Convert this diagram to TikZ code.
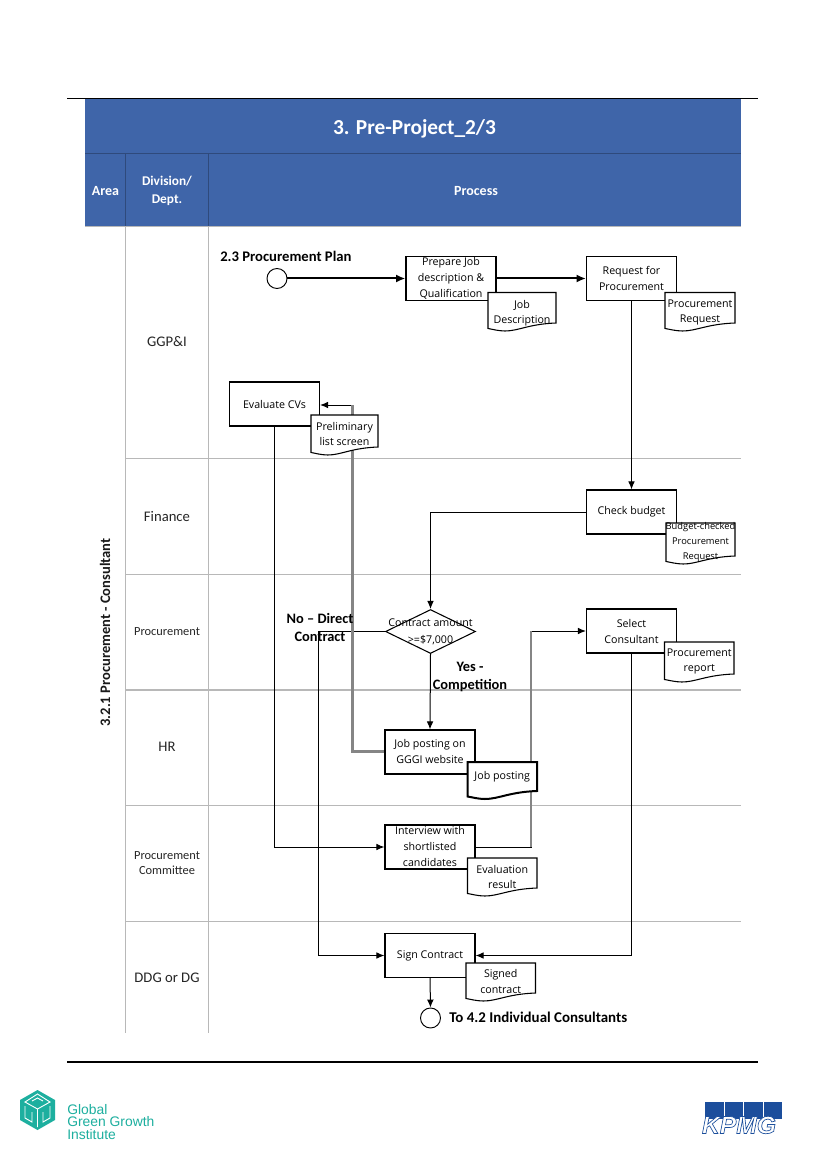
\documentclass[tikz,border=0pt]{standalone}
\usepackage{fontspec}
\setmainfont{Carlito}
\newfontfamily\boxfont{Open Sans}
\newfontfamily\logofont{Liberation Sans}
\usetikzlibrary{arrows.meta,shapes.geometric,calc}
\definecolor{headblue}{HTML}{3F65A9}
\definecolor{headline}{HTML}{2F4A7C}
\definecolor{rowline}{HTML}{B8B8B8}
\definecolor{ggteal}{HTML}{1DAF9F}
\definecolor{kblue}{HTML}{1C4E9C}
\tikzset{
  x=0.75pt,y=-0.75pt,
  procbox/.style={draw=black,line width=0.9pt,fill=white,minimum width=67.5pt,minimum height=33pt,inner sep=0pt,align=center,font=\boxfont\fontsize{8}{12}\selectfont},
  doctext/.style={inner sep=0pt,align=center,font=\boxfont\fontsize{8}{11.3}\selectfont},
  docshape/.style={draw=black,line width=0.8pt,fill=white},
  decision/.style={diamond,draw=black,line width=0.8pt,fill=white,minimum width=67.5pt,minimum height=33pt,inner sep=0pt},
  terminal/.style={circle,draw=black,line width=0.7pt,fill=white,minimum size=15pt,inner sep=0pt},
  flow/.style={draw=black,line width=0.75pt,-{Latex[length=6pt,width=5pt]}},
  heavyflow/.style={draw=black,line width=1.5pt,-{Latex[length=7pt,width=6pt]}},
  grayrun/.style={draw=black!48,line width=2pt},
  lane/.style={draw=rowline,line width=0.8pt},
  laneText/.style={inner sep=0pt,align=center,text=black!85,font=\fontsize{11}{14}\selectfont},
  laneSmall/.style={inner sep=0pt,align=center,text=black!85,font=\fontsize{9.3}{11.3}\selectfont},
  headText/.style={inner sep=0pt,align=center,text=white,font=\bfseries\fontsize{10.5}{14}\selectfont},
  noteText/.style={inner sep=0pt,align=center,font=\bfseries\fontsize{10.8}{13.5}\selectfont},
}
% document symbol: rectangle with a wavy lower edge, label in a named node
% arguments: name, left, top, right, bottom, label offset, label
\newcommand{\docnode}[7]{%
  \pgfmathsetmacro{\dw}{#4-#2}%
  \path[docshape] (#2,#3) -- (#4,#3) -- (#4,#5)
    .. controls ({#2+0.6*\dw},{#5+1}) and ({#2+0.45*\dw},{#5+8}) .. ({#2+0.25*\dw},{#5+8})
    .. controls ({#2+0.15*\dw},{#5+8}) and ({#2+0.05*\dw},{#5+6}) .. (#2,{#5+5.5}) -- cycle;
  \node[doctext] (#1) at ({(#2+#4)/2},{(#3+#5)/2+#6}) {#7};%
}
\begin{document}
\begin{tikzpicture}
\useasboundingbox (0,0) rectangle (827,1169);
\fill[white] (0,0) rectangle (827,1169);

% page rules
\draw[black,line width=0.9pt] (67,98.5) -- (758,98.5);
\draw[black,line width=0.9pt] (67,1062) -- (758,1062);

% heading band
\fill[headblue] (85,99) rectangle (741,226);
\draw[headline,line width=0.6pt] (85,153.5) -- (741,153.5);
\draw[headline,line width=0.6pt] (125.5,153.5) -- (125.5,226);
\draw[headline,line width=0.6pt] (208.5,153.5) -- (208.5,226);
\draw[rowline,line width=0.8pt] (85,226.3) -- (741,226.3);
\node[inner sep=0pt,text=white,font=\bfseries\fontsize{16}{19}\selectfont] (title) at (414.5,128.5) {3. Pre-Project\_2/3};
\node[headText] (areaHead) at (105.5,191) {Area};
\node[headText,font=\bfseries\fontsize{10}{13.5}\selectfont] (divHead) at (167,191) {Division/\\Dept.};
\node[headText] (procHead) at (476,191) {Process};

% swimlane grid
\draw[lane] (125.5,226) -- (125.5,1033);
\draw[lane] (208.5,226) -- (208.5,1033);
\foreach \ly in {458.5,574.3,690,805.5,921.5} \draw[lane] (125.5,\ly) -- (741,\ly);

\node[rotate=90,inner sep=0pt,text=black!90,font=\bfseries\fontsize{10.9}{13}\selectfont] (areaName) at (105,632.5) {3.2.1 Procurement - Consultant};
\node[laneText] (laneA) at (167,342) {GGP\&I};
\node[laneText] (laneB) at (167,516.5) {Finance};
\node[laneSmall] (laneC) at (167,632) {Procurement};
\node[laneText] (laneD) at (167,747) {HR};
\node[laneSmall] (laneE) at (167,863.5) {Procurement\\Committee};
\node[laneText] (laneF) at (167,978) {DDG or DG};

% process steps
\node[procbox] (prep) at (451,278.5) {Prepare Job\\description \&\\Qualification};
\node[procbox,font=\boxfont\fontsize{8}{11}\selectfont] (req) at (631.5,278.5) {\raisebox{0.4pt}{Request for}\\Procurement};
\node[procbox] (evalcv) at (274.5,404) {Evaluate CVs};
\node[procbox] (check) at (631.5,512) {Check budget};
\node[procbox] (select) at (631.5,631) {Select\\Consultant};
\node[procbox,text depth=0pt] (post) at (430,752) {\raisebox{1.5pt}{Job posting on}\\\raisebox{1.5pt}{GGGI website}};
\node[procbox] (interview) at (430,847) {\raisebox{1.5pt}{Interview with}\\\raisebox{1.5pt}{shortlisted}\\\raisebox{1.5pt}{candidates}};
\node[procbox] (sign) at (430,955.5) {Sign Contract};
\node[decision] (dec) at (430.5,631.5) {};
\node[terminal] (start) at (277,278.5) {};
\node[terminal] (finish) at (430.5,1018) {};

% bends of the connectors
\coordinate (noA) at (318,631.5);
\coordinate (noB) at (318,955.5);
\coordinate (postA) at (352.5,751.5);
\coordinate (postB) at (352.5,405);
\coordinate (intA) at (531,847);
\coordinate (intB) at (531,631);

% connectors
\draw[heavyflow] (start) -- (prep);
\draw[heavyflow] (prep) -- (req);
\draw[flow] (req) -- (check);
\draw[flow] (check.west) -| (dec.north);
\draw[flow] (dec.south) -- (post.north);
\draw[flow] (dec.west) -- (noA) -- (noB) -- (sign.west);
\draw[flow] (post.west |- postA) -- (postA) -- (postB) -- (evalcv.east |- postB);
\draw[grayrun] (post.west |- postA) -- (postA) -- (postB);
\draw[flow] (evalcv.south) |- (interview.west);
\draw[flow] (interview.east) -- (intA) -- (intB) -- (select.west);
\draw[grayrun] (intA) -- (intB);
\draw[flow] (select.south) |- (sign.east);
\draw[flow] (sign.south) -- (finish.north);

% documents produced along the way
\docnode{jobdesc}{488}{292.5}{556}{323}{5.5}{Job\\Description}
\docnode{procreq}{665}{292.5}{735}{323}{5}{Procurement\\Request}
\docnode{prelim}{311}{415}{378}{447}{3}{Preliminary\\list screen}
\docnode{budget}{666}{523}{735}{556}{3}{\fontsize{7}{10}\selectfont Budget-checked\\\fontsize{7}{10}\selectfont Procurement\\\fontsize{7}{10}\selectfont Request}
\docnode{procrep}{664.5}{642}{734}{674}{3.5}{Procurement\\report}
\begin{scope}[docshape/.append style={line width=1.5pt}]
\docnode{jobpost}{467.5}{762}{537}{791}{0.5}{Job posting}
\end{scope}
\docnode{evalres}{467.5}{858}{537}{888}{4}{Evaluation\\result}
\docnode{signed}{466}{963}{535.5}{993}{3.5}{Signed\\contract}

% labels inside the diamond and beside the flow
\node[doctext,font=\boxfont\fontsize{8}{12.5}\selectfont] (decText) at (430.5,631.5) {Contract amount\\>=\$7,000};
\node[noteText,anchor=west,font=\bfseries\fontsize{11}{13.5}\selectfont] (planLabel) at (220,256) {2.3 Procurement Plan};
\node[noteText] (noLabel) at (320,627) {No -- Direct\\Contract};
\node[noteText] (yesLabel) at (470,677) {Yes -\\Competition};
\node[noteText,anchor=west,font=\bfseries\fontsize{11.2}{13.5}\selectfont] (toLabel) at (449,1017) {To 4.2 Individual Consultants};

% Global Green Growth Institute mark
\fill[ggteal] (37.5,1090) -- (55,1100) -- (55,1120) -- (37.5,1130) -- (20,1120) -- (20,1100) -- cycle;
\draw[white,line width=0.7pt] (37.5,1094) -- (50,1102) -- (37.5,1109) -- (25,1102) -- cycle
  (37.5,1109) -- (37.5,1127) (25,1106) -- (25,1118) -- (32,1122) -- (32,1112)
  (50,1106) -- (50,1118) -- (43,1122) -- (43,1112) (32,1101) -- (37.5,1098) -- (43,1101);
\node[anchor=west,inner sep=0pt,text=ggteal,align=left,font=\logofont\fontsize{10.4}{9.4}\selectfont] (gggi) at (67,1122) {Global\\Green Growth\\Institute};

% KPMG mark
\fill[kblue] (705,1102) rectangle (782,1119);
\foreach \sx in {724,743,763} \draw[white,line width=0.6pt] (\sx,1102) -- (\sx,1119);
\node[anchor=center,inner sep=0pt,font=\logofont\bfseries\itshape\fontsize{18.5}{19}\selectfont,text=white] (kpmg) at (739,1125)
  {\special{pdf:code 2 Tr 0.5 w 0.11 0.31 0.61 RG}KPMG\special{pdf:code 0 Tr}};
\end{tikzpicture}
\end{document}
